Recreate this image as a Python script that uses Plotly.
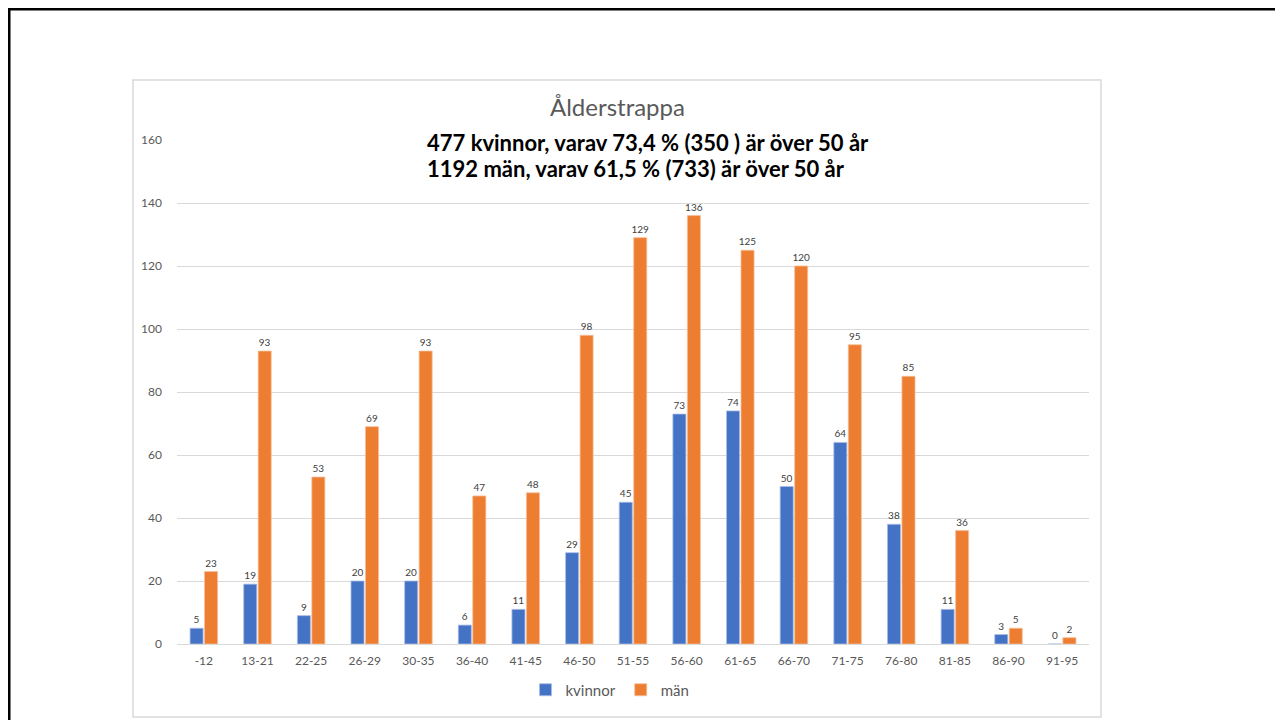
import plotly.graph_objects as go

categories = ["-12", "13-21", "22-25", "26-29", "30-35", "36-40", "41-45", "46-50",
              "51-55", "56-60", "61-65", "66-70", "71-75", "76-80", "81-85", "86-90", "91-95"]
kvinnor = [5, 19, 9, 20, 20, 6, 11, 29, 45, 73, 74, 50, 64, 38, 11, 3, 0]
man = [23, 93, 53, 69, 93, 47, 48, 98, 129, 136, 125, 120, 95, 85, 36, 5, 2]

FONT = "Lato"
OFF = 8  # browser body margin
W, H = 1283 - OFF, 720 - OFF
# plot area in page pixels
L, R, T, B = 177, 1089, 140, 644


def px(x):
    return (x - L) / (R - L)


def py(y):
    return (B - y) / (B - T)


fig = go.Figure()
fig.add_trace(go.Bar(
    x=categories, y=kvinnor, name="kvinnor",
    marker=dict(color="#4472C4", line=dict(color="#A9BEE6", width=0.8)),
    text=kvinnor, texttemplate="%{text}", textposition="outside", constraintext="none",
    textfont=dict(size=10, color="#404040", family=FONT), cliponaxis=False,
))
fig.add_trace(go.Bar(
    x=categories, y=man, name="män",
    marker=dict(color="#ED7D31", line=dict(color="#F6BE98", width=0.8)),
    text=man, texttemplate="%{text}", textposition="outside", constraintext="none",
    textfont=dict(size=10, color="#404040", family=FONT), cliponaxis=False,
))

shapes = [
    dict(type="rect", xref="paper", yref="paper",
         x0=px(OFF + 1), x1=px(1320), y0=py(760), y1=py(OFF + 1),
         line=dict(color="black", width=3), fillcolor="rgba(0,0,0,0)", layer="below"),
    dict(type="rect", xref="paper", yref="paper",
         x0=px(133), x1=px(1101), y0=py(717), y1=py(80),
         line=dict(color="#D9D9D9", width=1.5), fillcolor="rgba(0,0,0,0)", layer="below"),
]

annotations = [
    dict(text="Ålderstrappa", xref="paper", yref="paper", x=px(617), y=py(106),
         xanchor="center", yanchor="middle", showarrow=False,
         font=dict(size=24, color="#595959", family=FONT)),
    dict(text="<b>477 kvinnor, varav 73,4 % (350 ) är över 50 år</b>", xref="paper", yref="paper",
         x=px(425), y=py(142), xanchor="left", yanchor="middle", showarrow=False,
         font=dict(size=22, color="black", family=FONT)),
    dict(text="<b>1192 män, varav 61,5 % (733) är över 50 år</b>", xref="paper", yref="paper",
         x=px(425), y=py(168), xanchor="left", yanchor="middle", showarrow=False,
         font=dict(size=22, color="black", family=FONT)),
]

fig.update_layout(
    width=W, height=H,
    margin=dict(l=L - OFF, r=W - (R - OFF), t=T - OFF, b=H - (B - OFF)),
    paper_bgcolor="white", plot_bgcolor="white",
    barmode="group", bargap=0.46, bargroupgap=0.1,
    font=dict(family=FONT, color="#595959", size=12),
    shapes=shapes, annotations=annotations,
    showlegend=True,
    legend=dict(orientation="h", x=px(610), y=py(690), xanchor="center", yanchor="middle",
                font=dict(size=15, color="#595959", family=FONT), itemwidth=30),
    xaxis=dict(showgrid=False, showline=False, ticks="", ticklabelstandoff=8,
               tickfont=dict(size=12, color="#595959")),
    yaxis=dict(range=[0, 160], dtick=20, showgrid=True, gridcolor="#D9D9D9", gridwidth=1,
               zeroline=True, zerolinecolor="#D9D9D9", zerolinewidth=1, showline=False,
               ticks="", ticklabelstandoff=14, tickfont=dict(size=12, color="#595959")),
)

fig.write_html("out.html")
